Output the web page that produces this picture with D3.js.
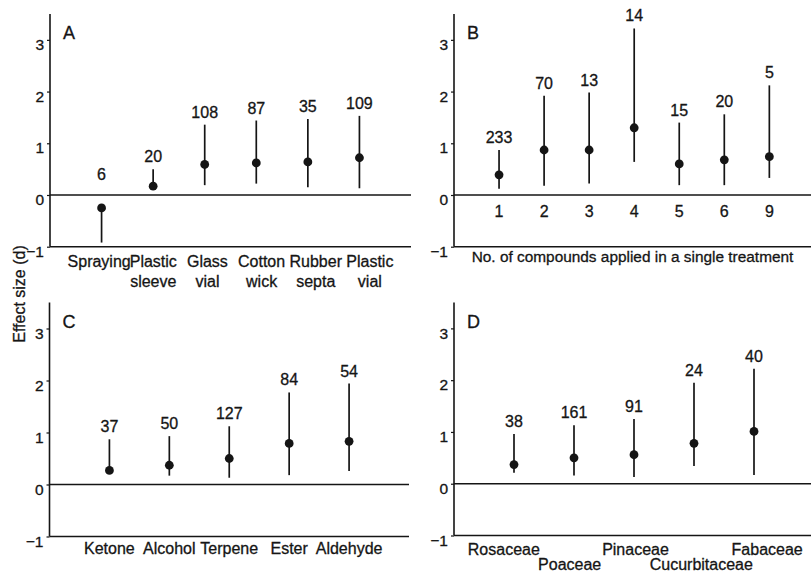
<!DOCTYPE html>
<html><head><meta charset="utf-8">
<script src="https://cdn.jsdelivr.net/npm/d3@7"></script>
<style>
html,body{margin:0;padding:0;background:#fff;}
svg{display:block;font-family:"Liberation Sans",Arial,Helvetica,sans-serif;}
svg text{stroke:#151515;stroke-width:0.3px;}
</style></head>
<body>
<svg id="chart" width="811" height="572"></svg>
<script>
// ---- Data ----
const yTicks = [-1, 0, 1, 2, 3];

const aCategories = [["Spraying"], ["Plastic", "sleeve"], ["Glass", "vial"], ["Cotton", "wick"], ["Rubber", "septa"], ["Plastic", "vial"]];
const aMean = [-0.25, 0.17, 0.59, 0.62, 0.64, 0.72];
const aLow  = [-0.92, 0.15, 0.19, 0.22, 0.15, 0.13];
const aHigh = [-0.22, 0.50, 1.36, 1.44, 1.47, 1.53];
const aN    = [6, 20, 108, 87, 35, 109];

const bCategories = ["1", "2", "3", "4", "5", "6", "9"];
const bMean = [0.39, 0.87, 0.87, 1.30, 0.60, 0.68, 0.74];
const bLow  = [0.12, 0.18, 0.22, 0.64, 0.19, 0.19, 0.33];
const bHigh = [0.87, 1.92, 1.98, 3.22, 1.40, 1.56, 2.12];
const bN    = [233, 70, 13, 14, 15, 20, 5];
const bTitle = "No. of compounds applied in a single treatment";

const cCategories = ["Ketone", "Alcohol", "Terpene", "Ester", "Aldehyde"];
const cMean = [0.27, 0.37, 0.50, 0.79, 0.83];
const cLow  = [0.25, 0.17, 0.13, 0.18, 0.26];
const cHigh = [0.87, 0.93, 1.12, 1.77, 1.94];
const cN    = [37, 50, 127, 84, 54];

const dCategories = ["Rosaceae", "Poaceae", "Pinaceae", "Cucurbitaceae", "Fabaceae"];
const dMean = [0.37, 0.50, 0.56, 0.78, 1.01];
const dLow  = [0.21, 0.16, 0.13, 0.34, 0.17];
const dHigh = [0.96, 1.13, 1.25, 1.95, 2.22];
const dN    = [38, 161, 91, 24, 40];

const yTitle = "Effect size (d)";

// ---- Drawing ----
const svg = d3.select("#chart");
const INK = "#151515";

function panel(cfg) {
  const g = svg.append("g");
  const x = d3.scalePoint().domain(cfg.keys).range([cfg.left, cfg.right]).padding(1);
  const y = d3.scaleLinear().domain([-1, 3.5]).range([cfg.bottom, cfg.top]);

  const ya = g.append("g").attr("transform", `translate(${cfg.left},0)`)
    .call(d3.axisLeft(y).tickValues(yTicks).tickSize(3).tickPadding(3).tickFormat(d3.format("d")));
  ya.select(".domain").attr("stroke", INK).attr("stroke-width", 1.6).attr("d", `M0,${cfg.bottom}V${cfg.top}`);
  ya.selectAll(".tick line").attr("stroke", INK).attr("stroke-width", 1.2);
  ya.selectAll(".tick text").attr("fill", INK).style("font-size", "15.5px").attr("dy", "0.62em");

  [-1, 0].forEach(v => {
    g.append("line").attr("x1", cfg.left).attr("x2", cfg.lineEnd)
      .attr("y1", y(v)).attr("y2", y(v)).attr("stroke", INK).attr("stroke-width", 1.6);
  });

  g.append("text").attr("x", cfg.left + 13).attr("y", cfg.top + 25)
    .attr("fill", INK).style("font-size", "18px").text(cfg.letter);

  const data = cfg.keys.map((k, i) => ({k, m: cfg.mean[i], lo: cfg.low[i], hi: cfg.high[i], n: cfg.n[i]}));

  g.selectAll(".bar").data(data).enter().append("line")
    .attr("x1", d => x(d.k)).attr("x2", d => x(d.k))
    .attr("y1", d => y(d.lo)).attr("y2", d => y(d.hi))
    .attr("stroke", INK).attr("stroke-width", 1.7);
  g.selectAll(".dot").data(data).enter().append("circle")
    .attr("cx", d => x(d.k)).attr("cy", d => y(d.m)).attr("r", 4.4).attr("fill", INK);
  g.selectAll(".nlab").data(data).enter().append("text")
    .attr("x", d => x(d.k)).attr("y", d => y(Math.max(d.hi, 0.15)) - 7)
    .attr("text-anchor", "middle").attr("fill", INK).style("font-size", "16px")
    .text(d => d.n);

  return {g, x, y, data};
}

// Panel A (labels spread slightly wider than the points, as in the original)
const A = panel({letter: "A", keys: aCategories.map(c => c.join(" ")), mean: aMean, low: aLow, high: aHigh, n: aN,
  left: 50, right: 411, lineEnd: 411, top: 14, bottom: 246.7});
const aLabelX = d3.scalePoint().domain(A.x.domain()).range([45, 424]).padding(1);
A.g.selectAll(".xl").data(aCategories).enter().append("text")
  .attr("text-anchor", "middle").attr("fill", INK).style("font-size", "16px")
  .attr("transform", c => `translate(${aLabelX(c.join(" "))},267)`)
  .each(function(c) {
    d3.select(this).selectAll("tspan").data(c).enter().append("tspan")
      .attr("x", 0).attr("y", (d, i) => i * 20).text(d => d);
  });

// Panel B
const B = panel({letter: "B", keys: bCategories, mean: bMean, low: bLow, high: bHigh, n: bN,
  left: 454, right: 814.4, lineEnd: 814, top: 14, bottom: 246.7});
B.g.selectAll(".xl").data(bCategories).enter().append("text")
  .attr("x", d => B.x(d)).attr("y", 217).attr("text-anchor", "middle")
  .attr("fill", INK).style("font-size", "16px").text(d => d);
B.g.append("text").attr("x", (454 + 811) / 2).attr("y", 262).attr("text-anchor", "middle")
  .attr("fill", INK).style("font-size", "15.4px").text(bTitle);

// Panel C
const C = panel({letter: "C", keys: cCategories, mean: cMean, low: cLow, high: cHigh, n: cN,
  left: 49.5, right: 409, lineEnd: 409, top: 302.5, bottom: 536.5});
C.g.selectAll(".xl").data(cCategories).enter().append("text")
  .attr("x", d => C.x(d)).attr("y", 553.5).attr("text-anchor", "middle")
  .attr("fill", INK).style("font-size", "16px").text(d => d);

// Panel D (labels spread slightly wider than the points, as in the original)
const D = panel({letter: "D", keys: dCategories, mean: dMean, low: dLow, high: dHigh, n: dN,
  left: 454, right: 814, lineEnd: 814, top: 302.5, bottom: 535.5});
const dLabelX = d3.scalePoint().domain(dCategories).range([438, 833]).padding(1);
D.g.selectAll(".xl").data(dCategories).enter().append("text")
  .attr("x", d => dLabelX(d)).attr("y", (d, i) => i % 2 === 0 ? 555 : 569.5).attr("text-anchor", "middle")
  .attr("fill", INK).style("font-size", "16px").text(d => d);

// Y title
svg.append("text").attr("transform", "translate(25,294) rotate(-90)")
  .attr("text-anchor", "middle").attr("fill", INK).style("font-size", "16px").text(yTitle);
</script>
</body></html>
